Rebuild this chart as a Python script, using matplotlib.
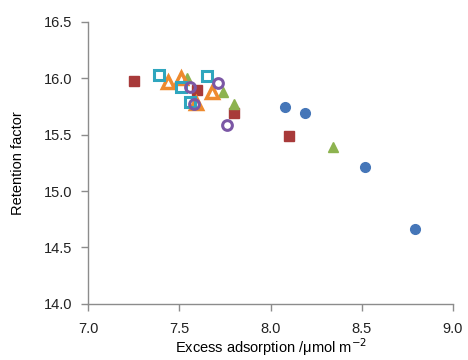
import matplotlib
matplotlib.use("Agg")
import matplotlib.pyplot as plt

plt.rcParams['font.family'] = ['Liberation Sans', 'DejaVu Sans']

blue_x = [8.08, 8.19, 8.52, 8.79]
blue_y = [15.75, 15.69, 15.21, 14.66]
red_x = [7.25, 7.60, 7.80, 8.10]
red_y = [15.98, 15.90, 15.69, 15.49]
green_x = [7.54, 7.74, 7.80, 8.34]
green_y = [16.00, 15.88, 15.77, 15.39]
orange_x = [7.44, 7.51, 7.59, 7.68]
orange_y = [15.97, 16.00, 15.78, 15.88]
teal_x = [7.39, 7.51, 7.56, 7.65]
teal_y = [16.03, 15.92, 15.79, 16.02]
purple_x = [7.56, 7.58, 7.71, 7.76]
purple_y = [15.92, 15.77, 15.96, 15.59]

xticks = [7.0, 7.5, 8.0, 8.5, 9.0]
yticks = [14.0, 14.5, 15.0, 15.5, 16.0, 16.5]

fig = plt.figure(figsize=(4.68, 3.6), dpi=100)
ax = fig.add_axes([0.188, 0.156, 0.78, 0.783])

ax.plot(blue_x, blue_y, 'o', color='#4576B8', ms=7, mec='#4576B8', ls='none')
ax.plot(red_x, red_y, 's', color='#A83A3A', ms=6.5, mec='#A83A3A', ls='none')
ax.plot(green_x, green_y, '^', color='#8DB34F', ms=7.5, mec='#8DB34F', ls='none')
ax.plot(orange_x, orange_y, '^', mfc='none', mec='#EE8A2E', mew=2.5, ms=8, ls='none')
ax.plot(teal_x, teal_y, 's', mfc='none', mec='#2FA6BE', mew=2.2, ms=7, ls='none')
ax.plot(purple_x, purple_y, 'o', mfc='none', mec='#7B57A5', mew=2.2, ms=7, ls='none')

ax.set_xlim(7.0, 9.0)
ax.set_ylim(14.0, 16.5)
ax.set_xticks(xticks)
ax.set_yticks(yticks)
ax.set_xticklabels([f"{v:.1f}" for v in xticks])
ax.set_yticklabels([f"{v:.1f}" for v in yticks])

for s in ['top', 'right']:
    ax.spines[s].set_visible(False)
for s in ['left', 'bottom']:
    ax.spines[s].set_color('#8C8C8C')
    ax.spines[s].set_linewidth(1.0)
ax.tick_params(axis='both', direction='out', length=5, width=1, color='#8C8C8C',
               labelsize=10.5, labelcolor='#222222')
ax.tick_params(axis='y', pad=6)
ax.tick_params(axis='x', pad=8)

ax.set_xlabel('Excess adsorption /\u03bcmol m$^{-2}$', fontsize=10.5, labelpad=0)
ax.set_ylabel('Retention factor', fontsize=10.5, labelpad=14)

fig.savefig('out.png', dpi=100)
